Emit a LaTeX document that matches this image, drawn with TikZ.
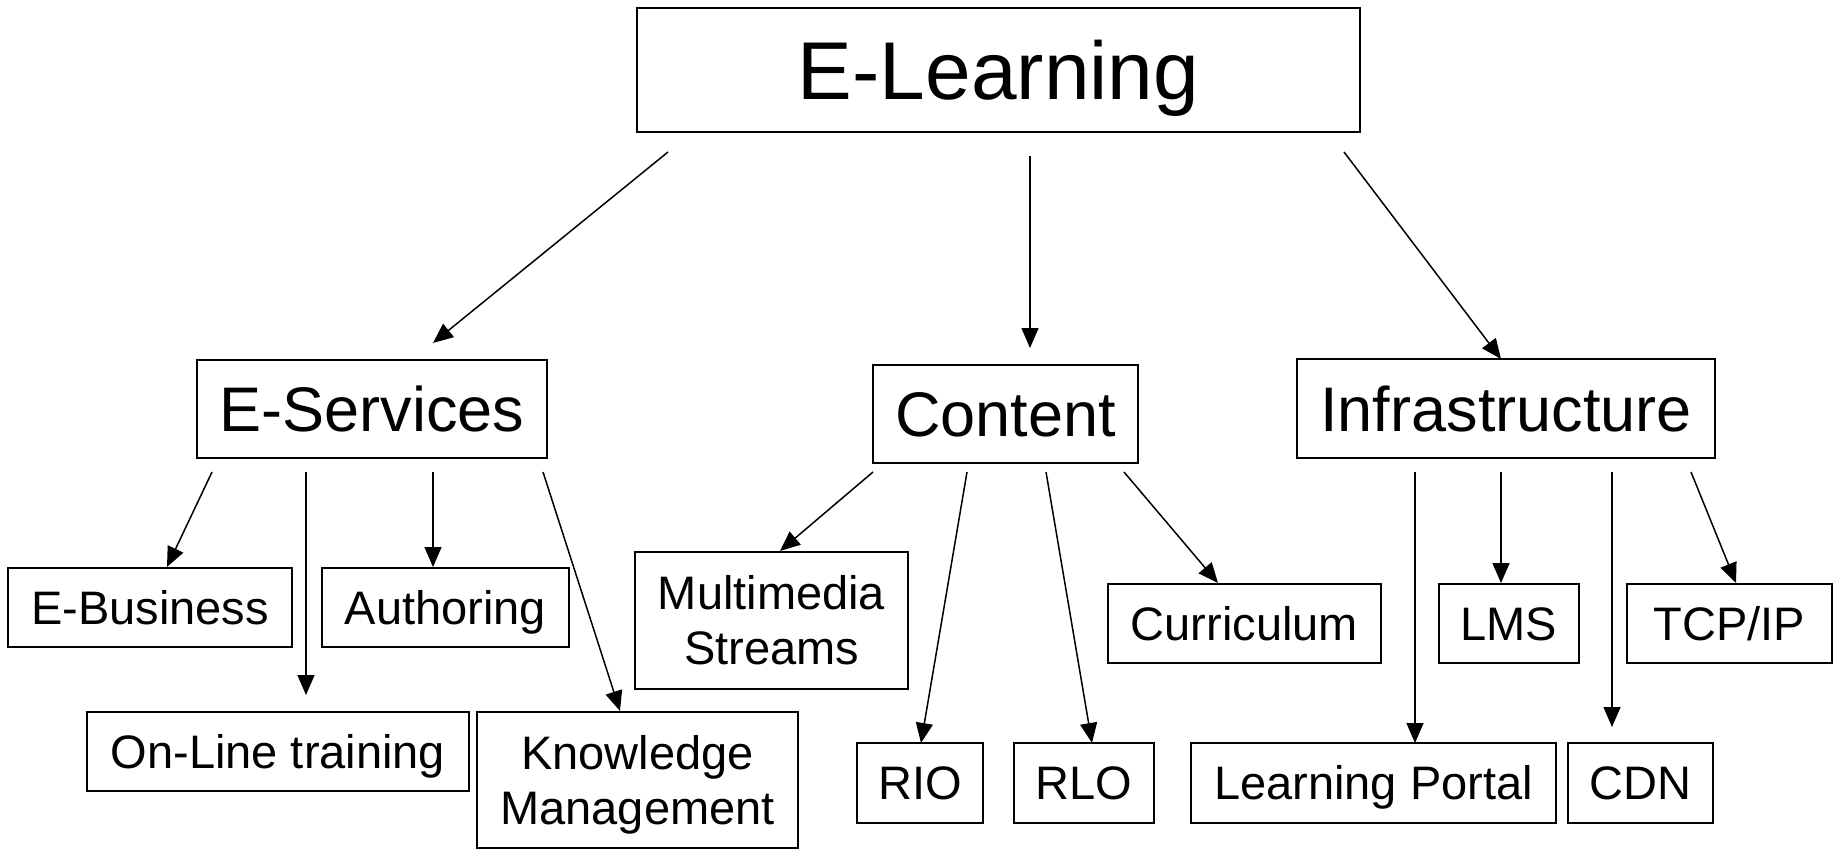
\documentclass[tikz,border=0pt]{standalone}
\usepackage{fontspec}
\setmainfont{Liberation Sans}
\usetikzlibrary{arrows.meta}
\tikzset{
  box/.style={draw=black, line width=2pt, inner sep=0pt, align=center, text=black, text depth=0pt},
  big/.style={box, font=\fontsize{82}{90}\selectfont, text height=58.7pt},
  mid/.style={box, font=\fontsize{63}{70}\selectfont, text height=45.1pt},
  small/.style={box, font=\fontsize{47}{55}\selectfont, text height=33.7pt},
  twoline/.style={small, text height=88.7pt},
  arr/.style={draw=black, line width=1.5pt, -{Triangle[length=20pt, width=17pt]}}
}
\begin{document}
\begin{tikzpicture}[x=1pt, y=-1pt]
\useasboundingbox (0,0) rectangle (1836,850);
% level 0
\node[big, minimum width=723pt, minimum height=124pt] (el) at (998.5,70) {E-Learning};
% level 1
\node[mid, minimum width=350pt, minimum height=98pt] (es) at (372,409) {E-Services};
\node[mid, minimum width=265pt, minimum height=98pt] (co) at (1005.5,414) {Content};
\node[mid, minimum width=418pt, minimum height=99pt] (inf) at (1506,408.5) {Infrastructure};
% level 2: E-Services
\node[small, minimum width=284pt, minimum height=79pt] (eb) at (150,607.5) {E-Business};
\node[small, minimum width=247pt, minimum height=79pt] (au) at (445.5,607.5) {Authoring};
\node[small, minimum width=382pt, minimum height=79pt] (ol) at (278,751.5) {On-Line training};
\node[twoline, minimum width=321pt, minimum height=136pt] (km) at (637.5,780) {Knowledge\\Management};
% level 2: Content
\node[twoline, minimum width=273pt, minimum height=137pt] (mm) at (771.5,620.5) {Multimedia\\Streams};
\node[small, minimum width=126pt, minimum height=80pt] (rio) at (920,783) {RIO};
\node[small, minimum width=140pt, minimum height=80pt] (rlo) at (1084,783) {RLO};
\node[small, minimum width=273pt, minimum height=79pt] (cur) at (1244.5,623.5) {Curriculum};
% level 2: Infrastructure
\node[small, minimum width=365pt, minimum height=80pt] (lp) at (1373.5,783) {Learning Portal};
\node[small, minimum width=145pt, minimum height=80pt] (cdn) at (1640.5,783) {CDN};
\node[small, minimum width=140pt, minimum height=79pt] (lms) at (1509,623.5) {LMS};
\node[small, minimum width=205pt, minimum height=79pt] (tcp) at (1729.5,623.5) {TCP/IP};
% connector ends
\coordinate (s-es) at (668,152);  \coordinate (t-es) at (433,343);
\coordinate (s-co) at (1030,156); \coordinate (t-co) at (1030,348);
\coordinate (s-in) at (1344,152); \coordinate (t-in) at (1501,359);
\coordinate (s-eb) at (212,472);  \coordinate (t-eb) at (167,567);
\coordinate (s-ol) at (306,472);  \coordinate (t-ol) at (306,695);
\coordinate (s-au) at (433,472);  \coordinate (t-au) at (433,567);
\coordinate (s-km) at (543,472);  \coordinate (t-km) at (620,711);
\coordinate (s-mm) at (873,472);  \coordinate (t-mm) at (780,551);
\coordinate (s-rio) at (967,472); \coordinate (t-rio) at (921,743);
\coordinate (s-rlo) at (1046,472); \coordinate (t-rlo) at (1092,743);
\coordinate (s-cur) at (1124,472); \coordinate (t-cur) at (1218,583);
\coordinate (s-lp) at (1415,472); \coordinate (t-lp) at (1415,743);
\coordinate (s-lms) at (1501,472); \coordinate (t-lms) at (1501,583);
\coordinate (s-cdn) at (1612,472); \coordinate (t-cdn) at (1612,727);
\coordinate (s-tcp) at (1691,472); \coordinate (t-tcp) at (1736,583);
% connectors
\foreach \n in {es,co,in,eb,ol,au,km,mm,rio,rlo,cur,lp,lms,cdn,tcp}
  \draw[arr] (s-\n) -- (t-\n);
\end{tikzpicture}
\end{document}
